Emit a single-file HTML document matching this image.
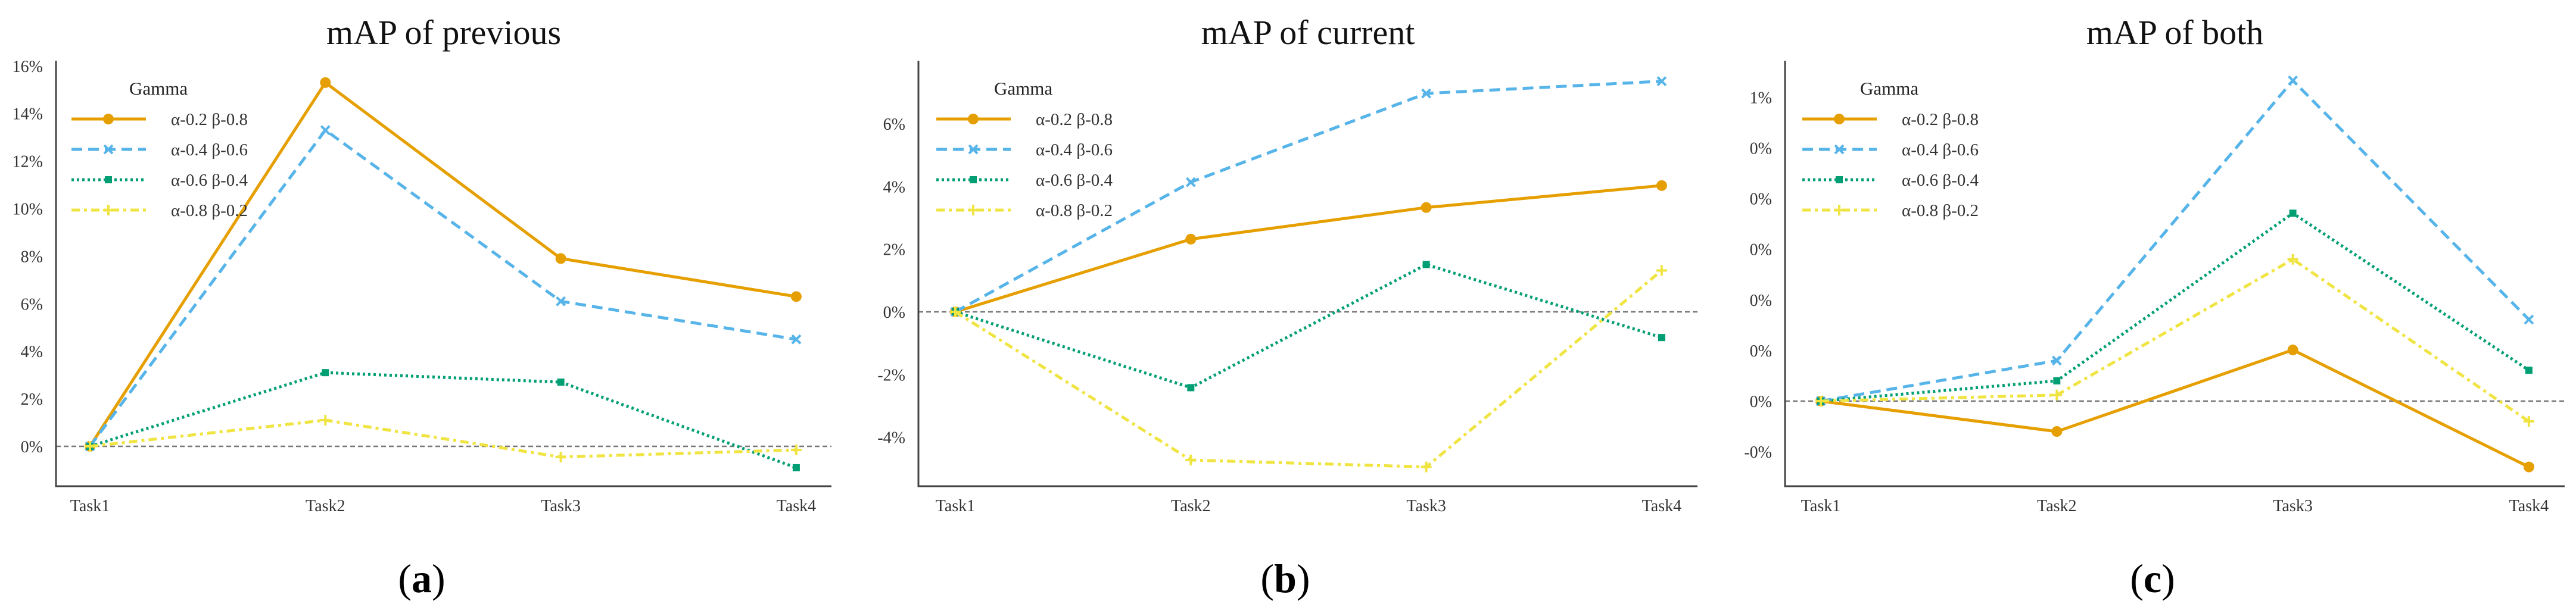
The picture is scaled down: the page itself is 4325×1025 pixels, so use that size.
<!DOCTYPE html>
<html><head><meta charset="utf-8"><style>
html,body{margin:0;padding:0;background:#fff;}
svg{display:block;font-family:"Liberation Serif",serif;}
</style></head><body>
<svg id="chart" width="4325" height="1025" viewBox="0 0 4325 1025" xmlns="http://www.w3.org/2000/svg"></svg>
<script>
const categories = ["Task1","Task2","Task3","Task4"];
const seriesNames = ["α-0.2 β-0.8","α-0.4 β-0.6","α-0.6 β-0.4","α-0.8 β-0.2"];
const prevOrange = [0, 15.3, 7.9, 6.3];
const prevBlue = [0, 13.3, 6.1, 4.5];
const prevGreen = [0, 3.1, 2.7, -0.9];
const prevYellow = [0, 1.1, -0.45, -0.15];
const prevTicks = [0, 2, 4, 6, 8, 10, 12, 14, 16];
const prevTickLabels = ["0%","2%","4%","6%","8%","10%","12%","14%","16%"];
const curOrange = [0, 2.32, 3.33, 4.03];
const curBlue = [0, 4.14, 6.97, 7.36];
const curGreen = [0, -2.42, 1.51, -0.82];
const curYellow = [0, -4.73, -4.95, 1.32];
const curTicks = [-4, -2, 0, 2, 4, 6];
const curTickLabels = ["-4%","-2%","0%","2%","4%","6%"];
const bothOrange = [0, -0.060, 0.101, -0.130];
const bothBlue = [0, 0.080, 0.633, 0.161];
const bothGreen = [0, 0.040, 0.371, 0.061];
const bothYellow = [0, 0.012, 0.280, -0.040];
const bothTicks = [-0.1, 0, 0.1, 0.2, 0.3, 0.4, 0.5, 0.6];
const bothTickLabels = ["-0%","0%","0%","0%","0%","0%","0%","1%"];

const NS = "http://www.w3.org/2000/svg";
const svg = document.getElementById("chart");
function mk(tag, attrs, parent){ const e=document.createElementNS(NS,tag); for(const k in attrs) e.setAttribute(k,attrs[k]); (parent||svg).appendChild(e); return e; }

const styles = [
  {color:"#E69F00", dash:"", w:5, marker:"circle"},
  {color:"#56B4E9", dash:"18 10", w:5, marker:"x"},
  {color:"#009E73", dash:"4 5", w:5, marker:"square"},
  {color:"#F0E442", dash:"14 7 5 7", w:5, marker:"plus"}
];

function marker(g, type, x, y, color){
  let m;
  if(type==="circle") m=mk("circle",{cx:x,cy:y,r:9,fill:color},g);
  else if(type==="square") m=mk("rect",{x:x-6,y:y-6,width:12,height:12,fill:color},g);
  else if(type==="x") m=mk("path",{d:`M${x-7} ${y-7}L${x+7} ${y+7}M${x+7} ${y-7}L${x-7} ${y+7}`,stroke:color,"stroke-width":4,fill:"none"},g);
  else m=mk("path",{d:`M${x-9} ${y}L${x+9} ${y}M${x} ${y-9}L${x} ${y+9}`,stroke:color,"stroke-width":4,fill:"none"},g);
  
  
}

const panels = [
  {id:"previous", title:"mAP of previous", label:"a", axL:94, axR:1396, axT:102, axB:817, x0:151, dx:395.3, zeroY:750, unitPx:39.95, ticks:prevTicks, tickLabels:prevTickLabels, series:[prevOrange,prevBlue,prevGreen,prevYellow], legX:120, textX:287, gammaX:217, labelX:708},
  {id:"current", title:"mAP of current", label:"b", axL:1542, axR:2850, axT:102, axB:817, x0:1604, dx:395.3, zeroY:524, unitPx:52.65, ticks:curTicks, tickLabels:curTickLabels, series:[curOrange,curBlue,curGreen,curYellow], legX:1572, textX:1739, gammaX:1669, labelX:2158},
  {id:"both", title:"mAP of both", label:"c", axL:2997, axR:4306, axT:102, axB:817, x0:3057, dx:396.3, zeroY:674, unitPx:851, ticks:bothTicks, tickLabels:bothTickLabels, series:[bothOrange,bothBlue,bothGreen,bothYellow], legX:3026, textX:3193, gammaX:3123, labelX:3614}
];

panels.forEach(p=>{
  const g = mk("g",{});
  
  
  const xs = i => p.x0 + i*p.dx;
  const ys = v => p.zeroY - v*p.unitPx;
  const cx = (p.axL+p.axR)/2;
  const t = mk("text",{x:cx,y:74,"font-size":58,"text-anchor":"middle",fill:"#111"},g);
  t.textContent=p.title;
  
  
  const z = mk("line",{x1:p.axL,x2:p.axR,y1:ys(0),y2:ys(0),stroke:"#777","stroke-width":2.5,"stroke-dasharray":"8 5"},g);
  
  
  const ax = mk("path",{d:`M${p.axL} ${p.axT}L${p.axL} ${p.axB}L${p.axR} ${p.axB}`,stroke:"#444","stroke-width":3,fill:"none"},g);
  
  
  p.ticks.forEach((v,i)=>{
    const tl = mk("text",{x:p.axL-22,y:ys(v)+10,"font-size":28,"text-anchor":"end",fill:"#333"},g);
    tl.textContent=p.tickLabels[i];
    
    
  });
  categories.forEach((c,i)=>{
    const tl = mk("text",{x:xs(i),y:859,"font-size":28,"text-anchor":"middle",fill:"#333"},g);
    tl.textContent=c;
    
    
  });
  p.series.forEach((arr,si)=>{
    const s = styles[si];
    const sg = mk("g",{},g);
    
    
    const pts = arr.map((v,i)=>xs(i)+","+ys(v)).join(" ");
    const attrs = {points:pts,fill:"none",stroke:s.color,"stroke-width":s.w,"stroke-linejoin":"round"};
    if(s.dash) attrs["stroke-dasharray"]=s.dash;
    const pl = mk("polyline",attrs,sg);
    
    
    arr.forEach((v,i)=>marker(sg,s.marker,xs(i),ys(v),s.color));
  });
  const lg = mk("g",{},g);
  
  
  const gt = mk("text",{x:p.gammaX,y:159,"font-size":31,fill:"#222"},lg);
  gt.textContent="Gamma";
  
  
  seriesNames.forEach((n,si)=>{
    const s=styles[si]; const y=200+si*51;
    const la={x1:p.legX,x2:p.legX+125,y1:y,y2:y,stroke:s.color,"stroke-width":s.w};
    if(s.dash) la["stroke-dasharray"]=s.dash;
    const ll = mk("line",la,lg);
    
    
    marker(lg,s.marker,p.legX+62,y,s.color);
    const lt = mk("text",{x:p.textX,y:y+10,"font-size":29,fill:"#333"},lg);
    lt.textContent=n;
    
    
  });
  const cap = mk("text",{x:p.labelX,y:995,"font-size":68,"text-anchor":"middle",fill:"#000"},g);
  cap.innerHTML = '(<tspan font-weight="bold">'+p.label+'</tspan>)';
  
  
});
</script>
</body></html>
